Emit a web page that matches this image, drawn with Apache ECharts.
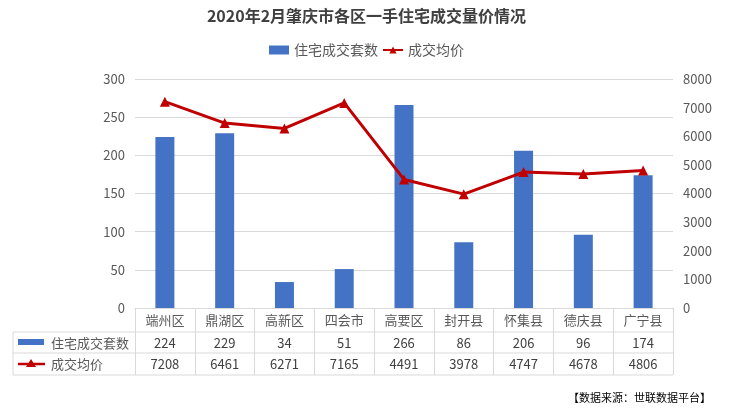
<!DOCTYPE html>
<html>
<head>
<meta charset="utf-8">
<script src="https://cdn.jsdelivr.net/npm/echarts@6/dist/echarts.min.js"></script>
<style>html,body{margin:0;padding:0;background:#fff;}#c{width:733px;height:416px;}</style>
</head>
<body>
<div id="c"></div>
<script>
const categories = ['端州区','鼎湖区','高新区','四会市','高要区','封开县','怀集县','德庆县','广宁县'];
const salesCount = [224,229,34,51,266,86,206,96,174];
const avgPrice = [7208,6461,6271,7165,4491,3978,4747,4678,4806];
const leftTicks = {min:0, max:300, interval:50};
const rightTicks = {min:0, max:8000, interval:1000};

const FONT = '"Noto Sans CJK SC", "Microsoft YaHei", sans-serif';
const GRAY = '#595959';
const BORDER = '#d9d9d9';
const chart = echarts.init(document.getElementById('c'));

const L = 135, R = 673, T = 79, B = 308, X0 = 13;
const rowY = [308, 332, 353, 375];

chart.setOption({
  animation: false,
  textStyle: {fontFamily: FONT},
  title: {
    text: '2020年2月肇庆市各区一手住宅成交量价情况',
    left: 'center', top: 3,
    textStyle: {fontSize: 16, fontWeight: 'bold', color: '#404040', fontFamily: FONT}
  },
  legend: {
    top: 38, left: 'center', itemGap: 4,
    textStyle: {color: GRAY, fontSize: 14, fontFamily: FONT},
    data: [
      {name: '住宅成交套数', icon: 'rect', itemStyle: {color: '#4472C4'}},
      {name: '成交均价'}
    ],
    itemWidth: 20, itemHeight: 9
  },
  grid: {left: L, right: 733 - R, top: T, bottom: 416 - B, containLabel: false},
  xAxis: [
    {
      type: 'category', data: categories, position: 'bottom',
      axisLine: {lineStyle: {color: BORDER}},
      axisTick: {show: true, length: rowY[3] - rowY[0], lineStyle: {color: BORDER}},
      axisLabel: {color: GRAY, fontSize: 13, margin: 6, fontFamily: FONT}
    },
    {
      type: 'category', data: categories, position: 'bottom', offset: rowY[1] - rowY[0],
      axisLine: {show: false}, axisTick: {show: false},
      axisLabel: {color: '#404040', fontSize: 13, margin: 5, fontFamily: FONT,
        formatter: (v, i) => String(salesCount[i])}
    },
    {
      type: 'category', data: categories, position: 'bottom', offset: rowY[2] - rowY[0],
      axisLine: {show: false}, axisTick: {show: false},
      axisLabel: {color: '#404040', fontSize: 13, margin: 5, fontFamily: FONT,
        formatter: (v, i) => String(avgPrice[i])}
    }
  ],
  yAxis: [
    {
      type: 'value', min: leftTicks.min, max: leftTicks.max, interval: leftTicks.interval,
      axisLine: {show: false}, axisTick: {show: false},
      axisLabel: {color: GRAY, fontSize: 13, margin: 10, fontFamily: FONT},
      splitLine: {lineStyle: {color: BORDER}}
    },
    {
      type: 'value', min: rightTicks.min, max: rightTicks.max, interval: rightTicks.interval,
      axisLine: {show: false}, axisTick: {show: false},
      axisLabel: {color: GRAY, fontSize: 13, margin: 10, fontFamily: FONT,
        formatter: v => String(v)},
      splitLine: {show: false}
    }
  ],
  series: [
    {
      name: '住宅成交套数', type: 'bar', data: salesCount, xAxisIndex: 0, yAxisIndex: 0,
      barWidth: 19, itemStyle: {color: '#4472C4'}
    },
    {
      name: '成交均价', type: 'line', data: avgPrice, xAxisIndex: 0, yAxisIndex: 1,
      symbol: 'triangle', symbolSize: 10, showSymbol: true,
      lineStyle: {color: '#C00000', width: 3}, itemStyle: {color: '#C00000'}
    }
  ],
  graphic: [
    {type: 'line', shape: {x1: X0, y1: rowY[1], x2: R, y2: rowY[1]}, style: {stroke: BORDER, lineWidth: 1}},
    {type: 'line', shape: {x1: X0, y1: rowY[2], x2: R, y2: rowY[2]}, style: {stroke: BORDER, lineWidth: 1}},
    {type: 'line', shape: {x1: X0, y1: rowY[3], x2: R, y2: rowY[3]}, style: {stroke: BORDER, lineWidth: 1}},
    {type: 'line', shape: {x1: X0, y1: rowY[1], x2: X0, y2: rowY[3]}, style: {stroke: BORDER, lineWidth: 1}},
    {type: 'rect', shape: {x: 18, y: 339, width: 26, height: 6}, style: {fill: '#4472C4'}},
    {type: 'text', x: 51, y: 343, style: {text: '住宅成交套数', fill: GRAY, font: '13px ' + FONT, textVerticalAlign: 'middle'}},
    {type: 'line', shape: {x1: 18, y1: 364, x2: 45, y2: 364}, style: {stroke: '#C00000', lineWidth: 2.5}},
    {type: 'polygon', shape: {points: [[31, 359], [26, 367], [36, 367]]}, style: {fill: '#C00000'}},
    {type: 'text', x: 51, y: 364, style: {text: '成交均价', fill: GRAY, font: '13px ' + FONT, textVerticalAlign: 'middle'}},
    {type: 'text', x: 568, y: 398, style: {text: '【数据来源：世联数据平台】', fill: '#000', font: '11px ' + FONT, textVerticalAlign: 'middle'}}
  ]
});
</script>
</body>
</html>
